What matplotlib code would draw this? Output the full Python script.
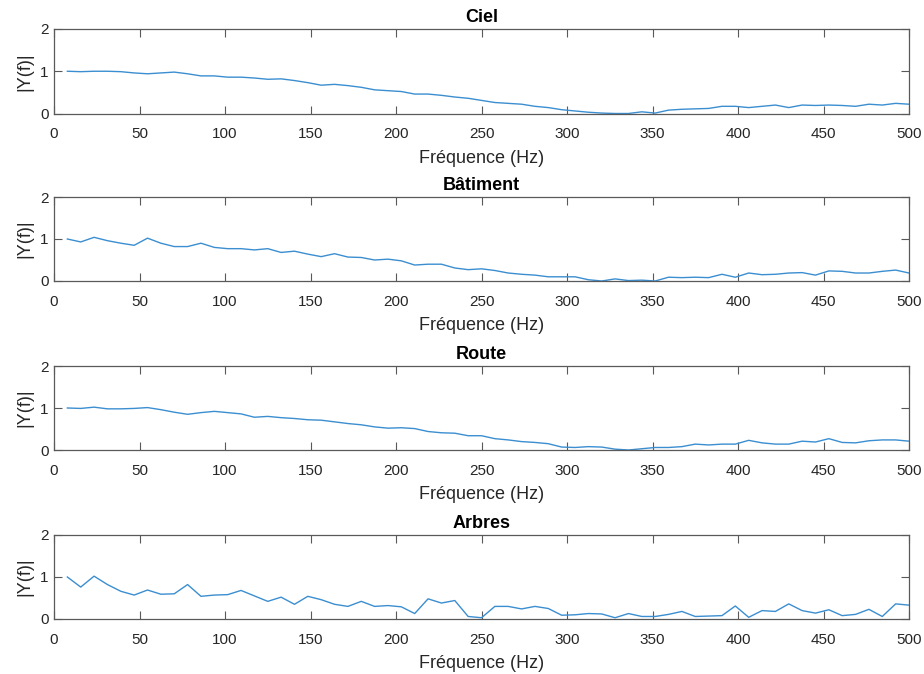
import numpy as np
import matplotlib
matplotlib.use("Agg")
import matplotlib.pyplot as plt

plt.rcParams['font.family'] = ['Liberation Sans', 'DejaVu Sans']

freqs = [7.8125 * k for k in range(1, 65)]

titles = ["Ciel", "Bâtiment", "Route", "Arbres"]

ciel = [1.00, 0.99, 1.00, 1.00, 0.99, 0.96, 0.94, 0.96, 0.98, 0.94,
        0.89, 0.89, 0.86, 0.86, 0.84, 0.81, 0.82, 0.78, 0.73, 0.67,
        0.69, 0.66, 0.62, 0.56, 0.54, 0.52, 0.46, 0.46, 0.43, 0.39,
        0.36, 0.31, 0.26, 0.24, 0.22, 0.17, 0.14, 0.09, 0.06, 0.03,
        0.01, 0.00, 0.00, 0.04, 0.01, 0.08, 0.10, 0.11, 0.12, 0.17,
        0.17, 0.14, 0.17, 0.20, 0.14, 0.20, 0.19, 0.20, 0.19, 0.17,
        0.22, 0.20, 0.24, 0.22]

batiment = [1.00, 0.93, 1.04, 0.96, 0.90, 0.85, 1.02, 0.90, 0.82, 0.82,
            0.90, 0.80, 0.77, 0.77, 0.74, 0.77, 0.68, 0.71, 0.64, 0.58,
            0.65, 0.57, 0.56, 0.50, 0.52, 0.48, 0.38, 0.40, 0.40, 0.31,
            0.27, 0.29, 0.25, 0.19, 0.16, 0.14, 0.10, 0.10, 0.10, 0.03,
            0.00, 0.05, 0.01, 0.02, 0.00, 0.09, 0.08, 0.09, 0.08, 0.16,
            0.09, 0.19, 0.15, 0.16, 0.19, 0.20, 0.14, 0.24, 0.23, 0.19,
            0.19, 0.23, 0.26, 0.19]

route = [1.00, 0.99, 1.02, 0.98, 0.98, 0.99, 1.01, 0.96, 0.90, 0.85,
         0.89, 0.92, 0.89, 0.86, 0.78, 0.80, 0.77, 0.75, 0.72, 0.71,
         0.67, 0.63, 0.60, 0.55, 0.52, 0.53, 0.51, 0.44, 0.41, 0.40,
         0.34, 0.34, 0.27, 0.24, 0.20, 0.18, 0.15, 0.07, 0.06, 0.08,
         0.07, 0.02, 0.00, 0.03, 0.06, 0.06, 0.08, 0.14, 0.12, 0.14,
         0.14, 0.23, 0.17, 0.14, 0.14, 0.21, 0.19, 0.27, 0.18, 0.17,
         0.22, 0.24, 0.24, 0.21]

arbres = [1.00, 0.76, 1.02, 0.82, 0.66, 0.57, 0.69, 0.59, 0.60, 0.82,
          0.54, 0.57, 0.58, 0.68, 0.55, 0.42, 0.52, 0.35, 0.54, 0.46,
          0.35, 0.30, 0.42, 0.30, 0.32, 0.29, 0.13, 0.48, 0.38, 0.44,
          0.06, 0.03, 0.30, 0.30, 0.24, 0.30, 0.25, 0.09, 0.10, 0.13,
          0.12, 0.03, 0.13, 0.06, 0.06, 0.11, 0.18, 0.06, 0.07, 0.08,
          0.31, 0.04, 0.20, 0.18, 0.36, 0.20, 0.14, 0.22, 0.08, 0.11,
          0.23, 0.06, 0.36, 0.33]

series = [ciel, batiment, route, arbres]
xticks = list(range(0, 501, 50))
yticks = [0, 1, 2]

W, H = 924, 674
fig = plt.figure(figsize=(W / 100, H / 100), dpi=100)

tops = [29, 197, 366, 535]
bottoms = [113.5, 281, 450, 619]
left, right = 54, 909

axcol = (0.35, 0.35, 0.35)
txtcol = '#262626'
for t, b, title, ys in zip(tops, bottoms, titles, series):
    ax = fig.add_axes([left / W, 1 - b / H, (right - left) / W, (b - t) / H])
    ax.plot(freqs, ys, color='#3B8ED0', lw=1.0)
    ax.set_xlim(0, 500)
    ax.set_ylim(0, 2)
    ax.set_xticks(xticks)
    ax.set_yticks(yticks)
    ax.tick_params(direction='in', top=True, right=True, length=5.5,
                   width=0.8, colors=axcol, labelsize=11, labelcolor=txtcol)
    ax.tick_params(axis='x', pad=10)
    ax.tick_params(axis='y', pad=4)
    for s in ax.spines.values():
        s.set_color(axcol)
        s.set_linewidth(0.9)
    ax.set_title(title, fontsize=13, fontweight='bold', pad=5, color='black')
    ax.set_xlabel('Fréquence (Hz)', fontsize=13, color=txtcol, labelpad=6)
    ax.set_ylabel('|Y(f)|', fontsize=13, color=txtcol, labelpad=5)

fig.savefig('out.png', dpi=100)
